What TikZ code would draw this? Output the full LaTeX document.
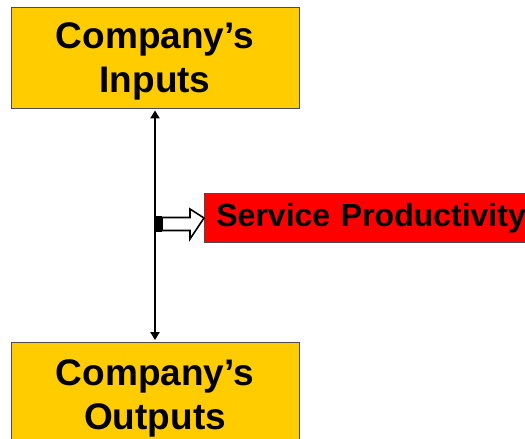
\documentclass[tikz,border=0pt]{standalone}
\usepackage{fontspec}
\setmainfont{Liberation Sans}
\usetikzlibrary{arrows.meta}
\definecolor{boxgold}{RGB}{255,204,0}
\definecolor{boxred}{RGB}{255,0,0}
\tikzset{
  goldbox/.style={draw=black!70, line width=0.8pt, fill=boxgold,
    minimum width=288pt, inner sep=0pt},
  goldtext/.style={align=center, inner sep=0pt,
    font=\fontsize{37}{44}\selectfont\bfseries},
  redbox/.style={draw=black!70, line width=0.8pt, fill=boxred, anchor=west,
    minimum height=49pt, text width=314pt, inner xsep=12pt, inner ysep=0pt,
    font=\fontsize{32}{38}\selectfont\bfseries},
  link/.style={line width=2pt, {Triangle[length=8pt,width=9pt]}-{Triangle[length=8pt,width=9pt]}},
  blockarrow/.style={draw=black, line width=1.6pt, fill=white, line join=miter}
}
\begin{document}
\begin{tikzpicture}[x=1pt,y=-1pt]
  \useasboundingbox (0,0) rectangle (525,439);
  \clip (0,0) rectangle (525,439);
  % the two company boxes and their captions
  \node[goldbox, minimum height=101pt] (inputs) at (155,57.5) {};
  \node[goldtext] (inputstext) at ([yshift=-3.5pt]inputs.center) {Company’s\\Inputs};
  \node[goldbox, minimum height=108pt] (outputs) at (155,396) {};
  \node[goldtext] (outputstext) at ([yshift=-2.5pt]outputs.center) {Company’s\\Outputs};
  % service productivity box
  \node[redbox] (service) at (204,218) {Service Productivity};
  % double-headed link between inputs and outputs
  \draw[link] ([yshift=-2pt]inputs.south) -- ([yshift=1.5pt]outputs.north);
  % small tab on the link where the hollow arrow leaves it
  \fill[black] (154,216) rectangle (162,232);
  % hollow block arrow pointing to the service box
  \coordinate (shafttop) at (162,217.5);
  \coordinate (shaftbot) at (162,230.5);
  \draw[blockarrow]
    (shafttop) -- (190,217.5) -- (190,209)
    -- (service.west) -- (190,239) -- (190,230.5)
    -- (shaftbot) -- cycle;
\end{tikzpicture}
\end{document}
